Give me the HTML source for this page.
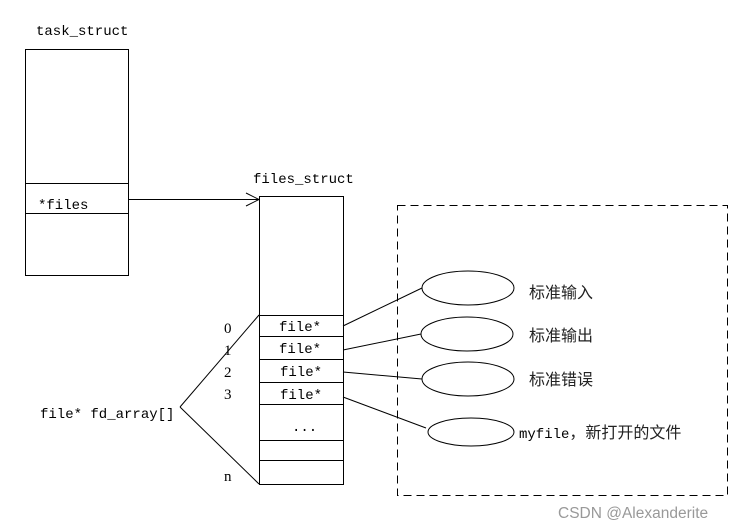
<!DOCTYPE html>
<html><head><meta charset="utf-8"><style>
html,body{margin:0;padding:0;background:#fff;}
svg{display:block}
.m{font-family:"Liberation Mono","DejaVu Sans Mono",monospace;font-size:14px;fill:#000}
.s{font-family:"Liberation Serif",serif;font-size:15px;fill:#000}
.c{font-family:"Liberation Sans","Noto Sans CJK SC",sans-serif;font-size:16px;fill:#222}
</style></head><body>
<svg width="735" height="528" viewBox="0 0 735 528" xmlns="http://www.w3.org/2000/svg">
<g fill="none" stroke="#000" stroke-width="1">
<rect x="25.5" y="49.5" width="103" height="226"/>
<line x1="25" y1="183.5" x2="128" y2="183.5"/>
<line x1="25" y1="213.5" x2="128" y2="213.5"/>
<line x1="128" y1="199.5" x2="259" y2="199.5"/>
<polyline points="246,193 259,199.5 246,206"/>
<rect x="259.5" y="196.5" width="84" height="288"/>
<line x1="259" y1="315.5" x2="343" y2="315.5"/>
<line x1="259" y1="336.5" x2="343" y2="336.5"/>
<line x1="259" y1="359.5" x2="343" y2="359.5"/>
<line x1="259" y1="382.5" x2="343" y2="382.5"/>
<line x1="259" y1="404.5" x2="343" y2="404.5"/>
<line x1="259" y1="440.5" x2="343" y2="440.5"/>
<line x1="259" y1="460.5" x2="343" y2="460.5"/>
<line x1="180" y1="407" x2="259" y2="315"/>
<line x1="180" y1="407" x2="259" y2="484"/>
<rect x="397.5" y="205.5" width="330" height="290" stroke-dasharray="8,5"/>
<ellipse cx="468" cy="288" rx="46" ry="17"/>
<ellipse cx="467" cy="334" rx="46" ry="17"/>
<ellipse cx="468" cy="379" rx="46" ry="17"/>
<ellipse cx="471" cy="432" rx="43" ry="14"/>
<line x1="343" y1="326" x2="422" y2="288"/>
<line x1="343" y1="350" x2="421" y2="334"/>
<line x1="343" y1="372" x2="422" y2="379"/>
<line x1="343" y1="397" x2="426" y2="428"/>
</g>
<text class="m" x="36" y="35">task_struct</text>
<text class="m" x="38" y="209">*files</text>
<text class="m" x="253" y="183">files_struct</text>
<text class="m" x="279" y="331">file*</text>
<text class="m" x="279" y="353">file*</text>
<text class="m" x="280" y="376">file*</text>
<text class="m" x="280" y="399">file*</text>
<text class="m" x="292" y="431">...</text>
<text class="m" x="40" y="418">file* fd_array[]</text>
<text class="s" x="224" y="333">0</text>
<text class="s" x="224" y="355">1</text>
<text class="s" x="224" y="377">2</text>
<text class="s" x="224" y="399">3</text>
<text class="s" x="224" y="481">n</text>
<text class="c" x="529" y="298">标准输入</text>
<text class="c" x="529" y="341">标准输出</text>
<text class="c" x="529" y="385">标准错误</text>
<text class="c" x="519" y="438"><tspan class="m" style="font-size:14px">myfile</tspan>，新打开的文件</text>
<text x="558" y="518" style="font-family:'Liberation Sans',sans-serif;font-size:15.5px;fill:#999">CSDN @Alexanderite</text>
</svg>
</body></html>
